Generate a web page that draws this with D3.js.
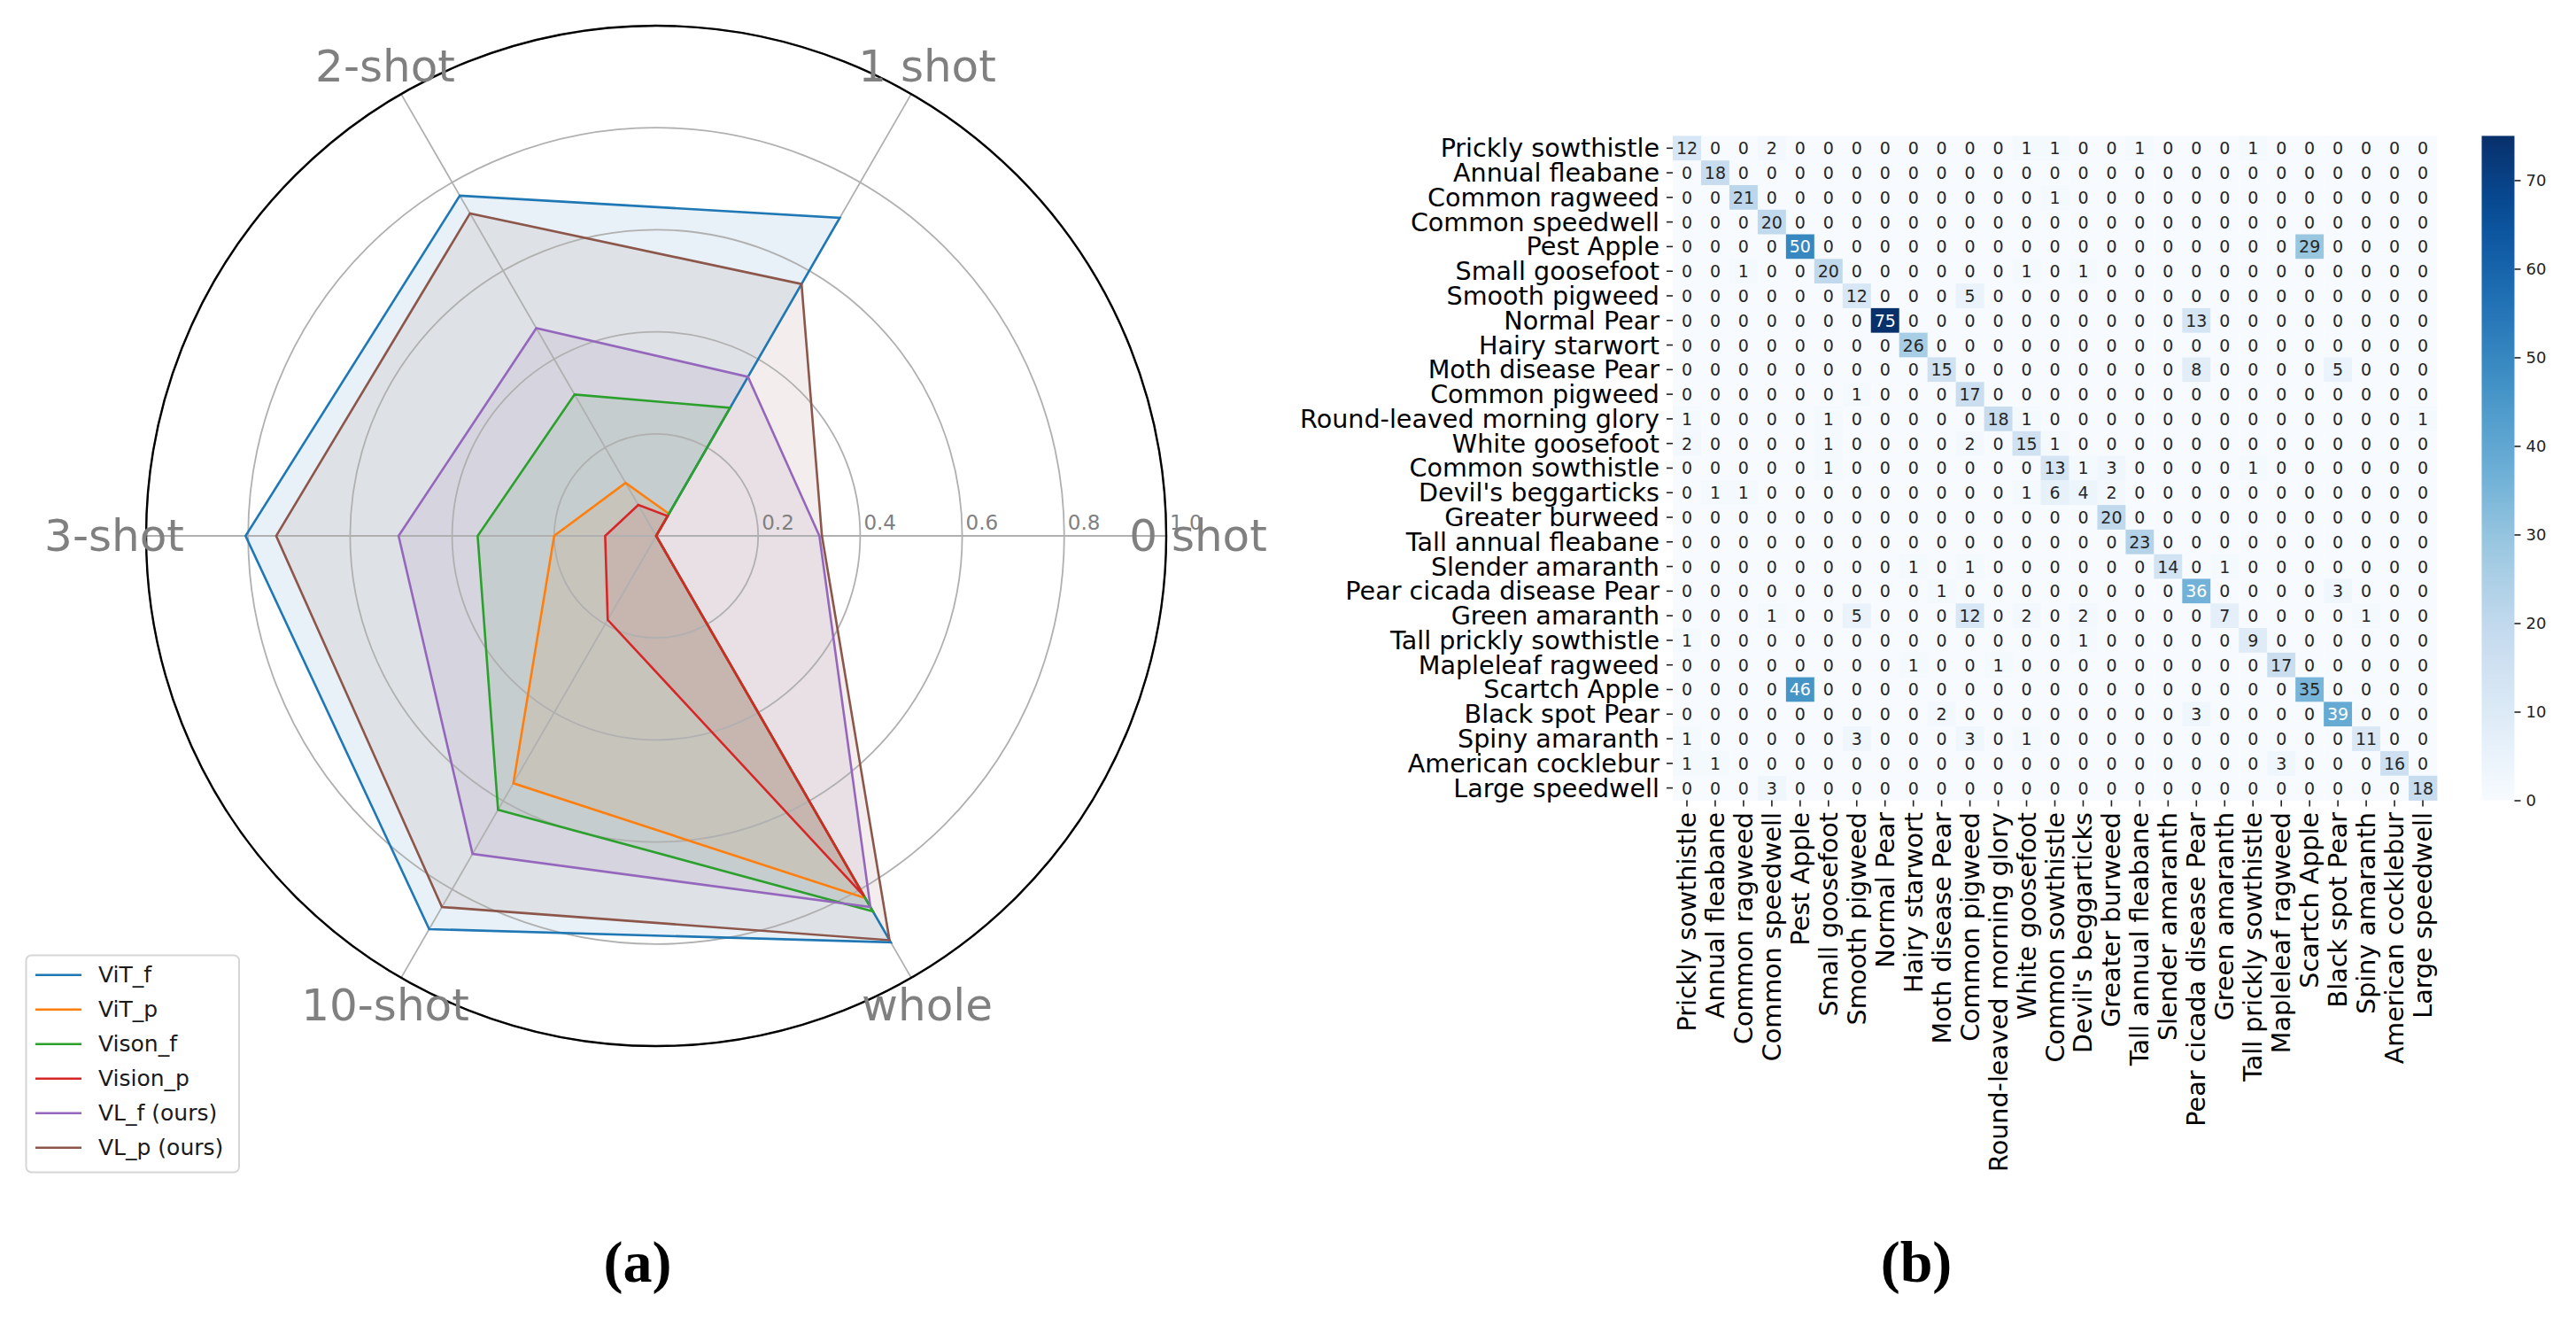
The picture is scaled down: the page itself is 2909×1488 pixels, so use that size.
<!DOCTYPE html>
<html>
<head>
<meta charset="utf-8">
<script src="https://cdn.jsdelivr.net/npm/d3@7"></script>
<style>
  body { margin: 0; background: #fff; }
  svg { display: block; font-family: "DejaVu Sans", sans-serif; }
</style>
</head>
<body>
<svg id="fig" width="2909" height="1488"></svg>
<script>
// ---------------- radar data (a) ----------------
var radarAxes = ["0 shot", "1 shot", "2-shot", "3-shot", "10-shot", "whole"];
var seriesNames = ["ViT_f", "ViT_p", "Vison_f", "Vision_p", "VL_f (ours)", "VL_p (ours)"];
var seriesColors = ["#1f77b4", "#ff7f0e", "#2ca02c", "#d62728", "#9467bd", "#8c564b"];
var vitF   = [0.00, 0.72, 0.77, 0.805, 0.89, 0.92];
var vitP   = [0.00, 0.05, 0.12, 0.20, 0.56, 0.82];
var visonF = [0.00, 0.29, 0.32, 0.35, 0.62, 0.85];
var visionP= [0.00, 0.045, 0.07, 0.10, 0.19, 0.815];
var vlF    = [0.32, 0.36, 0.47, 0.505, 0.72, 0.84];
var vlP    = [0.325, 0.57, 0.73, 0.745, 0.84, 0.915];
var radarTicks = [0.2, 0.4, 0.6, 0.8, 1.0];

// ---------------- confusion matrix data (b) ----------------
var classes = ["Prickly sowthistle", "Annual fleabane", "Common ragweed", "Common speedwell", "Pest Apple",
  "Small goosefoot", "Smooth pigweed", "Normal Pear", "Hairy starwort", "Moth disease Pear",
  "Common pigweed", "Round-leaved morning glory", "White goosefoot", "Common sowthistle",
  "Devil's beggarticks", "Greater burweed", "Tall annual fleabane", "Slender amaranth",
  "Pear cicada disease Pear", "Green amaranth", "Tall prickly sowthistle", "Mapleleaf ragweed",
  "Scartch Apple", "Black spot Pear", "Spiny amaranth", "American cocklebur", "Large speedwell"];
var confusion = [
  [12,0,0,2,0,0,0,0,0,0,0,0,1,1,0,0,1,0,0,0,1,0,0,0,0,0,0],
  [0,18,0,0,0,0,0,0,0,0,0,0,0,0,0,0,0,0,0,0,0,0,0,0,0,0,0],
  [0,0,21,0,0,0,0,0,0,0,0,0,0,1,0,0,0,0,0,0,0,0,0,0,0,0,0],
  [0,0,0,20,0,0,0,0,0,0,0,0,0,0,0,0,0,0,0,0,0,0,0,0,0,0,0],
  [0,0,0,0,50,0,0,0,0,0,0,0,0,0,0,0,0,0,0,0,0,0,29,0,0,0,0],
  [0,0,1,0,0,20,0,0,0,0,0,0,1,0,1,0,0,0,0,0,0,0,0,0,0,0,0],
  [0,0,0,0,0,0,12,0,0,0,5,0,0,0,0,0,0,0,0,0,0,0,0,0,0,0,0],
  [0,0,0,0,0,0,0,75,0,0,0,0,0,0,0,0,0,0,13,0,0,0,0,0,0,0,0],
  [0,0,0,0,0,0,0,0,26,0,0,0,0,0,0,0,0,0,0,0,0,0,0,0,0,0,0],
  [0,0,0,0,0,0,0,0,0,15,0,0,0,0,0,0,0,0,8,0,0,0,0,5,0,0,0],
  [0,0,0,0,0,0,1,0,0,0,17,0,0,0,0,0,0,0,0,0,0,0,0,0,0,0,0],
  [1,0,0,0,0,1,0,0,0,0,0,18,1,0,0,0,0,0,0,0,0,0,0,0,0,0,1],
  [2,0,0,0,0,1,0,0,0,0,2,0,15,1,0,0,0,0,0,0,0,0,0,0,0,0,0],
  [0,0,0,0,0,1,0,0,0,0,0,0,0,13,1,3,0,0,0,0,1,0,0,0,0,0,0],
  [0,1,1,0,0,0,0,0,0,0,0,0,1,6,4,2,0,0,0,0,0,0,0,0,0,0,0],
  [0,0,0,0,0,0,0,0,0,0,0,0,0,0,0,20,0,0,0,0,0,0,0,0,0,0,0],
  [0,0,0,0,0,0,0,0,0,0,0,0,0,0,0,0,23,0,0,0,0,0,0,0,0,0,0],
  [0,0,0,0,0,0,0,0,1,0,1,0,0,0,0,0,0,14,0,1,0,0,0,0,0,0,0],
  [0,0,0,0,0,0,0,0,0,1,0,0,0,0,0,0,0,0,36,0,0,0,0,3,0,0,0],
  [0,0,0,1,0,0,5,0,0,0,12,0,2,0,2,0,0,0,0,7,0,0,0,0,1,0,0],
  [1,0,0,0,0,0,0,0,0,0,0,0,0,0,1,0,0,0,0,0,9,0,0,0,0,0,0],
  [0,0,0,0,0,0,0,0,1,0,0,1,0,0,0,0,0,0,0,0,0,17,0,0,0,0,0],
  [0,0,0,0,46,0,0,0,0,0,0,0,0,0,0,0,0,0,0,0,0,0,35,0,0,0,0],
  [0,0,0,0,0,0,0,0,0,2,0,0,0,0,0,0,0,0,3,0,0,0,0,39,0,0,0],
  [1,0,0,0,0,0,3,0,0,0,3,0,1,0,0,0,0,0,0,0,0,0,0,0,11,0,0],
  [1,1,0,0,0,0,0,0,0,0,0,0,0,0,0,0,0,0,0,0,0,3,0,0,0,16,0],
  [0,0,0,3,0,0,0,0,0,0,0,0,0,0,0,0,0,0,0,0,0,0,0,0,0,0,18]
];
var colorbarTicks = [0, 10, 20, 30, 40, 50, 60, 70];

function wrapper(){

var svg = d3.select("#fig");
svg.append("rect").attr("width", 2909).attr("height", 1488).attr("fill", "#fff");

//////////////////// (a) radar ////////////////////
var cx = 741, cy = 605, R = 576;
var rScale = d3.scaleLinear().domain([0, 1]).range([0, R]);
var angle = d3.scaleLinear().domain([0, radarAxes.length]).range([0, 2 * Math.PI]);

function pt(i, v){
  var a = angle(i);
  return [cx + rScale(v) * Math.cos(a), cy - rScale(v) * Math.sin(a)];
}

var allSeries = [vitF, vitP, visonF, visionP, vlF, vlP];
var radar = svg.append("g").attr("class", "radar");

// fills first (they sit under the grid in matplotlib)
allSeries.forEach(function(vals, k){
  radar.append("path")
    .attr("d", d3.line()(vals.map(function(v, i){ return pt(i, v); })) + "Z")
    .attr("fill", seriesColors[k])
    .attr("fill-opacity", 0.1)
    .attr("stroke", "none");
});

// grid circles
radar.selectAll("circle.grid")
  .data(radarTicks)
  .enter().append("circle")
    .attr("class", "grid")
    .attr("cx", cx).attr("cy", cy)
    .attr("r", function(d){ return rScale(d); })
    .attr("fill", "none")
    .attr("stroke", "#b0b0b0")
    .attr("stroke-width", 1.8);

// spokes
radar.selectAll("line.spoke")
  .data(radarAxes)
  .enter().append("line")
    .attr("class", "spoke")
    .attr("x1", cx).attr("y1", cy)
    .attr("x2", function(d, i){ return pt(i, 1)[0]; })
    .attr("y2", function(d, i){ return pt(i, 1)[1]; })
    .attr("stroke", "#b0b0b0")
    .attr("stroke-width", 1.8);

// outer spine
radar.append("circle")
  .attr("cx", cx).attr("cy", cy).attr("r", R)
  .attr("fill", "none").attr("stroke", "#000").attr("stroke-width", 2.4);

// series outlines
allSeries.forEach(function(vals, k){
  radar.append("path")
    .attr("d", d3.line()(vals.map(function(v, i){ return pt(i, v); })) + "Z")
    .attr("fill", "none")
    .attr("stroke", seriesColors[k])
    .attr("stroke-width", 2.6)
    .attr("stroke-linejoin", "miter");
});

// radial tick labels
radar.selectAll("text.rtick")
  .data(radarTicks)
  .enter().append("text")
    .attr("class", "rtick")
    .attr("x", function(d){ return cx + rScale(d) + 4; })
    .attr("y", cy - 7)
    .attr("font-size", 23)
    .attr("fill", "#808080")
    .text(function(d){ return d3.format(".1f")(d); });

// axis labels
radar.selectAll("text.alabel")
  .data(radarAxes)
  .enter().append("text")
    .attr("class", "alabel")
    .attr("x", function(d, i){ return cx + 612 * Math.cos(angle(i)); })
    .attr("y", function(d, i){ return cy - 612 * Math.sin(angle(i)); })
    .attr("text-anchor", "middle")
    .attr("dominant-baseline", "central")
    .attr("font-size", 50)
    .attr("fill", "#808080")
    .text(function(d){ return d; });

// legend
var leg = svg.append("g").attr("class", "legend");
leg.append("rect")
  .attr("x", 29.5).attr("y", 1078.5)
  .attr("width", 240.5).attr("height", 245)
  .attr("rx", 6).attr("ry", 6)
  .attr("fill", "#fff").attr("fill-opacity", 0.8)
  .attr("stroke", "#d6d6d6").attr("stroke-width", 2);
var legY = d3.scaleLinear().domain([0, 1]).range([1100.7, 1139.7]);
seriesNames.forEach(function(name, k){
  var y = legY(k);
  leg.append("line")
    .attr("x1", 40).attr("x2", 92).attr("y1", y).attr("y2", y)
    .attr("stroke", seriesColors[k]).attr("stroke-width", 2.6);
  leg.append("text")
    .attr("x", 111).attr("y", y)
    .attr("dominant-baseline", "central")
    .attr("font-size", 25)
    .attr("fill", "#1a1a1a")
    .text(name);
});

//////////////////// (b) confusion matrix ////////////////////
var idx = d3.range(classes.length);
var xBand = d3.scaleBand().domain(idx).range([1889, 2752]);
var yBand = d3.scaleBand().domain(idx).range([153.4, 903.5]);
var vmax = 75;
var blues = ["#f7fbff","#deebf7","#c6dbef","#9ecae1","#6baed6","#4292c6","#2171b5","#08519c","#08306b"];
var color = d3.scaleLinear()
  .domain(blues.map(function(d, i){ return i / (blues.length - 1) * vmax; }))
  .range(blues)
  .interpolate(d3.interpolateRgb);

function lum(c){
  var rgb = d3.rgb(c);
  var f = function(v){ v = v / 255; return v <= 0.03928 ? v / 12.92 : Math.pow((v + 0.055) / 1.055, 2.4); };
  return 0.2126 * f(rgb.r) + 0.7152 * f(rgb.g) + 0.0722 * f(rgb.b);
}

var cells = [];
confusion.forEach(function(row, r){
  row.forEach(function(v, c){ cells.push({r: r, c: c, v: v}); });
});

var hm = svg.append("g").attr("class", "heatmap");
hm.selectAll("rect.cell")
  .data(cells)
  .enter().append("rect")
    .attr("class", "cell")
    .attr("x", function(d){ return xBand(d.c); })
    .attr("y", function(d){ return yBand(d.r); })
    .attr("width", xBand.bandwidth() + 0.4)
    .attr("height", yBand.bandwidth() + 0.4)
    .attr("fill", function(d){ return color(d.v); });

hm.selectAll("text.val")
  .data(cells)
  .enter().append("text")
    .attr("class", "val")
    .attr("x", function(d){ return xBand(d.c) + xBand.bandwidth() / 2; })
    .attr("y", function(d){ return yBand(d.r) + yBand.bandwidth() / 2; })
    .attr("text-anchor", "middle")
    .attr("dominant-baseline", "central")
    .attr("font-size", 19)
    .attr("fill", function(d){ return lum(color(d.v)) > 0.408 ? "#262626" : "#ffffff"; })
    .text(function(d){ return d.v; });

// row ticks + labels
var rowG = hm.append("g");
idx.forEach(function(i){
  var y = yBand(i) + yBand.bandwidth() / 2;
  rowG.append("line").attr("x1", 1882).attr("x2", 1889).attr("y1", y).attr("y2", y)
    .attr("stroke", "#222").attr("stroke-width", 1.6);
  rowG.append("text")
    .attr("x", 1874).attr("y", y)
    .attr("text-anchor", "end")
    .attr("dominant-baseline", "central")
    .attr("font-size", 28.6)
    .attr("fill", "#000")
    .text(classes[i]);
});

// column ticks + labels
var colG = hm.append("g");
idx.forEach(function(i){
  var x = xBand(i) + xBand.bandwidth() / 2;
  colG.append("line").attr("x1", x).attr("x2", x).attr("y1", 903.5).attr("y2", 910.5)
    .attr("stroke", "#222").attr("stroke-width", 1.6);
  colG.append("text")
    .attr("transform", "translate(" + x + ",917) rotate(-90)")
    .attr("text-anchor", "end")
    .attr("dominant-baseline", "central")
    .attr("font-size", 28.6)
    .attr("fill", "#000")
    .text(classes[i]);
});

// colorbar
var cbY = d3.scaleLinear().domain([0, vmax]).range([903.5, 153.4]);
var defs = svg.append("defs");
var grad = defs.append("linearGradient").attr("id", "cbgrad")
  .attr("x1", 0).attr("y1", 1).attr("x2", 0).attr("y2", 0);
d3.range(0, 1.0001, 0.05).forEach(function(t){
  grad.append("stop").attr("offset", t).attr("stop-color", color(t * vmax));
});
svg.append("rect")
  .attr("x", 2802.5).attr("y", 153.4)
  .attr("width", 37).attr("height", 903.5 - 153.4)
  .attr("fill", "url(#cbgrad)");
var cbAxis = d3.axisRight(cbY).tickValues(colorbarTicks).tickSize(7).tickPadding(6);
var cbG = svg.append("g")
  .attr("transform", "translate(2839.5,0)")
  .call(cbAxis);
cbG.select(".domain").remove();
cbG.selectAll(".tick line").attr("stroke", "#222").attr("stroke-width", 1.6);
cbG.selectAll(".tick text").attr("font-size", 18).attr("fill", "#222")
  .attr("font-family", "DejaVu Sans, sans-serif");

//////////////////// captions ////////////////////
svg.append("text").attr("x", 720).attr("y", 1447)
  .attr("text-anchor", "middle")
  .attr("font-family", "Liberation Serif, serif").attr("font-weight", "bold")
  .attr("font-size", 66).text("(a)");
svg.append("text").attr("x", 2164).attr("y", 1447)
  .attr("text-anchor", "middle")
  .attr("font-family", "Liberation Serif, serif").attr("font-weight", "bold")
  .attr("font-size", 66).text("(b)");
}
window.onload = wrapper;
</script>
</body>
</html>
